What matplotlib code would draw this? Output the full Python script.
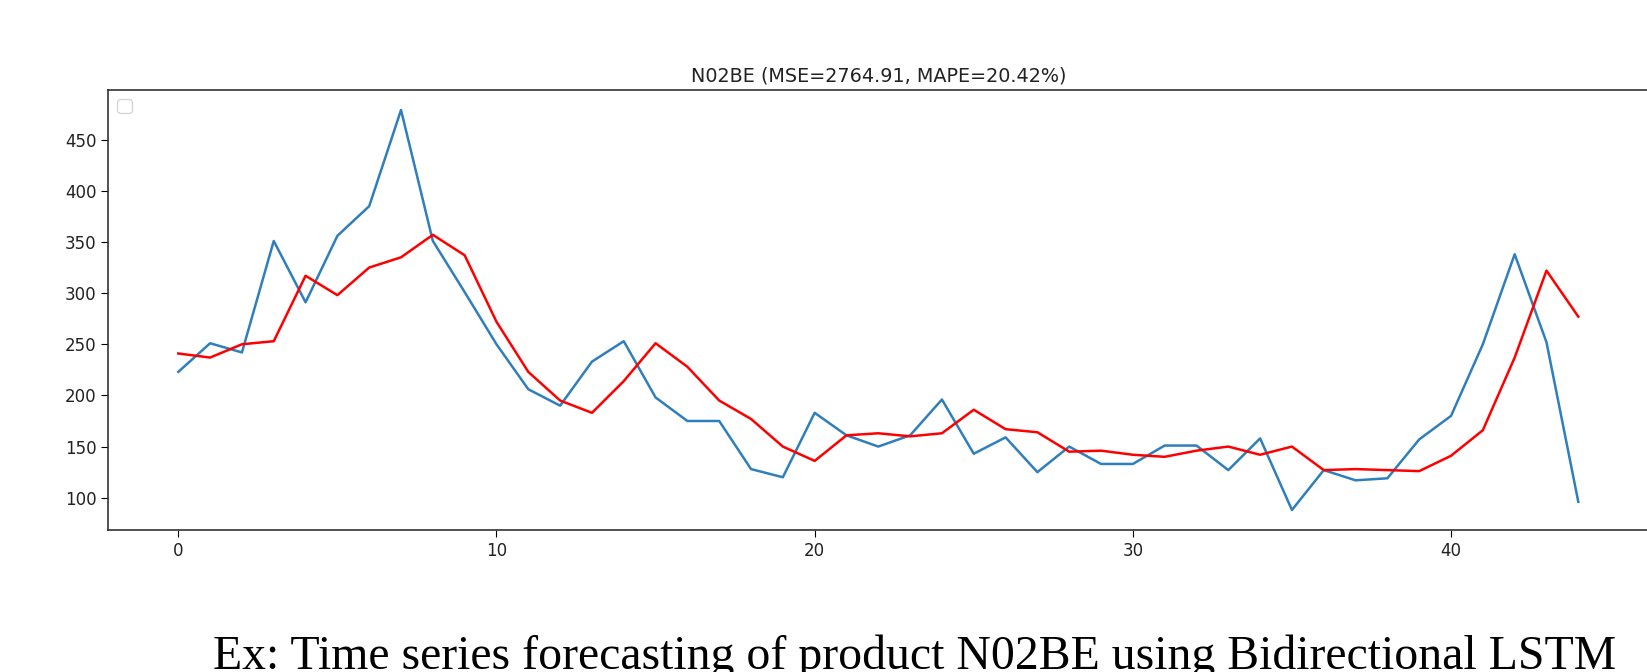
import matplotlib
matplotlib.use("Agg")
import matplotlib.pyplot as plt
import numpy as np

# weekly sales of N02BE: actual vs Bidirectional LSTM prediction
weeks = np.arange(45)
actual = [223, 251, 242, 351, 291, 356, 385, 479, 351, 301,
          250, 206, 190, 233, 253, 198, 175, 175, 128, 120,
          183, 161, 150, 161, 196, 143, 159, 125, 150, 133,
          133, 151, 151, 127, 158, 88, 127, 117, 119, 157,
          180, 250, 338, 252, 96]
predicted = [241, 237, 250, 253, 317, 298, 325, 335, 357, 337,
             272, 223, 195, 183, 214, 251, 228, 195, 177, 150,
             136, 161, 163, 160, 163, 186, 167, 164, 145, 146,
             142, 140, 146, 150, 142, 150, 127, 128, 127, 126,
             141, 166, 237, 322, 277]

title_text = "N02BE (MSE=2764.91, MAPE=20.42%)"
caption = "Ex: Time series forecasting of product N02BE using Bidirectional LSTM"

fig = plt.figure(figsize=(16.47, 6.72), dpi=100)
ax = fig.add_axes([108.3 / 1647, 1 - 530 / 672, 1540 / 1647, 440 / 672])

ax.plot(weeks, actual, color="#2f7fbc", lw=1.8)
ax.plot(weeks, predicted, color="red", lw=1.8)

ax.set_title(title_text, fontsize=13.8, color="#222222")
ax.tick_params(labelsize=12, labelcolor="#222222", length=5)
for sp in ax.spines.values():
    sp.set_color("#333333")
    sp.set_linewidth(1.2)

# the original called legend() with no labelled lines -> empty frame
ax.legend(handles=[], loc="upper left", fontsize=13)

fig.text(213 / 1647, 1 - 669 / 672, caption, family="Liberation Serif",
         fontsize=34.4, va="baseline", ha="left", color="black")

fig.savefig("out.png", dpi=100)
